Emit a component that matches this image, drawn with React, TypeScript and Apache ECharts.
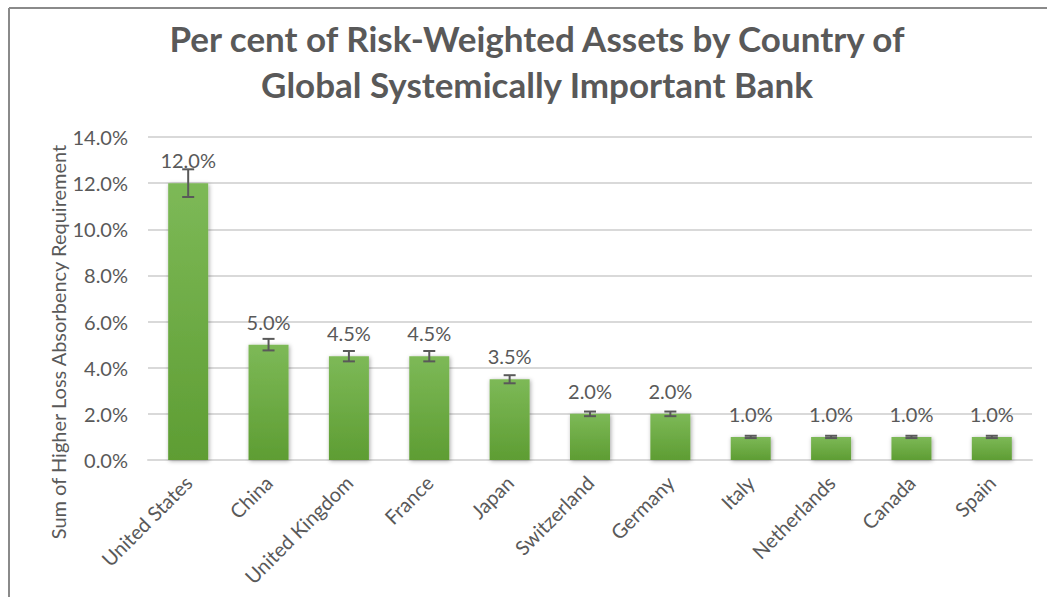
import React, { useEffect, useRef } from "react";
import * as echarts from "echarts";

const categories = [
  "United States",
  "China",
  "United Kingdom",
  "France",
  "Japan",
  "Switzerland",
  "Germany",
  "Italy",
  "Netherlands",
  "Canada",
  "Spain",
];
const values = [12.0, 5.0, 4.5, 4.5, 3.5, 2.0, 2.0, 1.0, 1.0, 1.0, 1.0];
const errors = [0.6, 0.25, 0.225, 0.225, 0.175, 0.1, 0.1, 0.05, 0.05, 0.05, 0.05];
const titleLines = [
  "Per cent of Risk-Weighted Assets by Country of",
  "Global Systemically Important Bank",
];
const yAxisName = "Sum of Higher Loss Absorbency Requirement";

const FONT = "Lato, 'Open Sans', sans-serif";
const TEXT = "#595959";

export default function App() {
  const ref = useRef<HTMLDivElement>(null);
  useEffect(() => {
    if (!ref.current) return;
    const chart = echarts.init(ref.current, undefined, { renderer: "svg" });
    chart.setOption({
      animation: false,
      backgroundColor: "#ffffff",
      textStyle: { fontFamily: FONT },
      graphic: [
        {
          type: "line",
          shape: { x1: 9, y1: 8, x2: 1047, y2: 8 },
          style: { stroke: "#8a8a8a", lineWidth: 2 },
        },
        {
          type: "line",
          shape: { x1: 9, y1: 8, x2: 9, y2: 597 },
          style: { stroke: "#8a8a8a", lineWidth: 2 },
        },
        {
          type: "text",
          x: 537,
          y: 38,
          style: {
            text: titleLines[0],
            fill: TEXT,
            font: `bold 35px ${FONT}`,
            align: "center",
            verticalAlign: "middle",
          },
        },
        {
          type: "text",
          x: 537,
          y: 84,
          style: {
            text: titleLines[1],
            fill: TEXT,
            font: `bold 35px ${FONT}`,
            align: "center",
            verticalAlign: "middle",
          },
        },
        {
          type: "text",
          x: 58,
          y: 342,
          rotation: Math.PI / 2,
          style: {
            text: yAxisName,
            fill: TEXT,
            font: `20px ${FONT}`,
            align: "center",
            verticalAlign: "middle",
          },
        },
      ],
      grid: { left: 148, right: 15, top: 137, bottom: 137, containLabel: false },
      xAxis: {
        type: "category",
        data: categories,
        axisLine: { lineStyle: { color: "#d9d9d9", width: 2 } },
        axisTick: { show: false },
        axisLabel: {
          rotate: 45,
          color: TEXT,
          fontSize: 20,
          fontFamily: FONT,
          margin: 19,
          interval: 0,
        },
      },
      yAxis: {
        type: "value",
        min: 0,
        max: 14,
        interval: 2,
        axisLine: { show: false },
        axisTick: { show: false },
        splitLine: { lineStyle: { color: "#d9d9d9", width: 2 } },
        axisLabel: {
          color: TEXT,
          fontSize: 20,
          fontFamily: FONT,
          margin: 20,
          formatter: (v: number) => v.toFixed(1) + "%",
        },
      },
      series: [
        {
          type: "bar",
          data: values,
          barWidth: 40,
          itemStyle: {
            color: new echarts.graphic.LinearGradient(0, 0, 0, 1, [
              { offset: 0, color: "#7db957" },
              { offset: 1, color: "#5e9d33" },
            ]),
            shadowBlur: 4,
            shadowColor: "rgba(0,0,0,0.35)",
            shadowOffsetX: 1,
            shadowOffsetY: 1,
          },
          label: {
            show: true,
            position: "top",
            distance: 13,
            color: TEXT,
            fontSize: 20,
            fontFamily: FONT,
            formatter: (p: any) => Number(p.value).toFixed(1) + "%",
          },
          z: 2,
        },
        {
          type: "custom",
          data: values.map((v, i) => [i, v, errors[i]]),
          z: 3,
          renderItem: (params: any, api: any) => {
            const x = api.value(0);
            const v = api.value(1);
            const e = api.value(2);
            const top = api.coord([x, v + e]);
            const bot = api.coord([x, v - e]);
            const hw = 6;
            const style = { stroke: "#595959", lineWidth: 2 };
            return {
              type: "group",
              children: [
                { type: "line", shape: { x1: top[0], y1: top[1], x2: bot[0], y2: bot[1] }, style },
                { type: "line", shape: { x1: top[0] - hw, y1: top[1], x2: top[0] + hw, y2: top[1] }, style },
                { type: "line", shape: { x1: bot[0] - hw, y1: bot[1], x2: bot[0] + hw, y2: bot[1] }, style },
              ],
            };
          },
        },
      ],
    });
    return () => chart.dispose();
  }, []);
  return (
    <div
      ref={ref}
      style={{ position: "fixed", left: 0, top: 0, width: 1047, height: 597 }}
    />
  );
}
